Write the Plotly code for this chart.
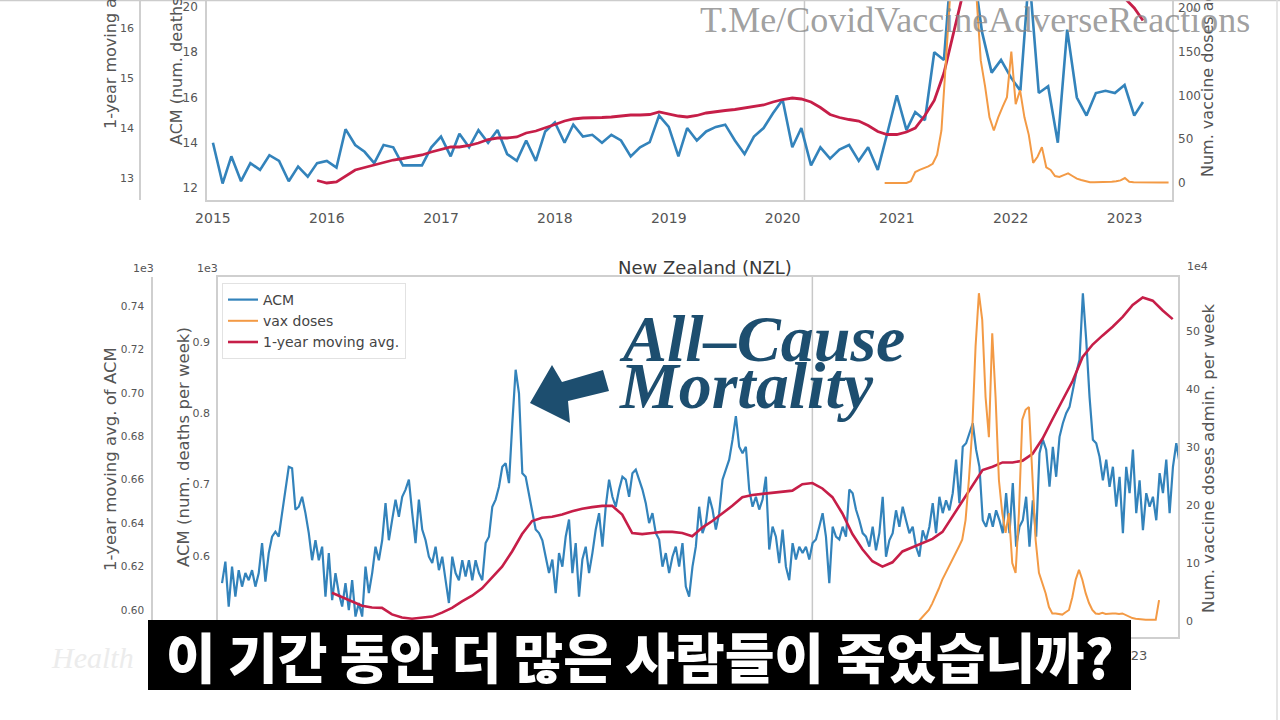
import pandas as pd
import plotly.graph_objects as go

W, H = 1280, 720
BLUE = "#3383bb"
ORANGE = "#f39a45"
RED = "#c61e48"
SPINE = "#cfcfcf"
TXT = "#555555"
SANS = "DejaVu Sans"
SERIF = "Liberation Serif"

# ---------------- data ----------------
years = list(range(2015, 2024))
year_labels = [str(y) for y in years]
bottom_tick_years = [2023]

# upper panel: monthly ACM, 1-year moving average, vaccine doses (two-weekly)
top_acm = [14.0, 12.2, 13.4, 12.3, 13.1, 12.8, 13.45, 13.2, 12.3, 12.95, 12.5, 13.1,
           13.2, 12.9, 14.6, 13.9, 13.6, 13.1, 13.9, 13.8, 13.0, 13.0, 13.0, 13.8,
           14.27, 13.4, 14.4, 13.8, 14.56, 14.0, 14.56, 13.5, 13.2, 14.1, 13.2, 14.5,
           14.9, 14.0, 14.8, 14.27, 14.35, 14.0, 14.35, 14.1, 13.4, 13.8, 14.03, 15.2,
           14.7, 13.4, 14.65, 14.1, 14.5, 14.7, 14.8, 14.1, 13.5, 14.27, 14.65, 15.3,
           15.9, 13.8, 14.65, 13.0, 13.8, 13.3, 13.7, 13.9, 13.2, 13.8, 12.8, 14.4,
           16.1, 14.56, 15.36, 15.0, 18.0, 17.66, 23.0, 24.5, 22.0, 18.9, 17.1, 17.66,
           16.9, 16.3, 21.5, 16.2, 16.5, 14.0, 19.0, 16.0, 15.2, 16.2, 16.3, 16.2,
           16.55, 15.2, 15.8]
top_avg = [12.95, 12.9, 12.92, 13.03, 13.16, 13.21, 13.26, 13.31, 13.36, 13.39, 13.43, 13.46,
           13.52, 13.57, 13.62, 13.62, 13.65, 13.7, 13.77, 13.8, 13.8, 13.82, 13.9, 13.94,
           14.0, 14.07, 14.14, 14.18, 14.2, 14.2, 14.21, 14.22, 14.24, 14.26, 14.26, 14.27,
           14.32, 14.28, 14.24, 14.22, 14.25, 14.3, 14.33, 14.35, 14.37, 14.4, 14.43, 14.46,
           14.52, 14.57, 14.6, 14.58, 14.52, 14.41, 14.27, 14.21, 14.17, 14.14, 14.05, 13.93,
           13.87, 13.87, 13.92, 14.0, 14.25, 14.55, 15.1, 15.95, 16.8, 17.5, 18.1, 18.5,
           18.8, 18.9, 18.9, 18.8, 18.6, 18.3, 18.0, 17.7, 17.5, 17.3, 17.1, 16.95,
           16.8, 16.6, 16.4, 16.15]
top_vax = [0, 0, 0, 0, 0, 0, 2, 12.6, 15, 17, 19, 22, 32, 60, 140, 215, 250, 270, 265, 250,
           235, 215, 140, 110, 75, 60, 75, 87, 98, 150, 90, 106, 75, 55, 23, 30, 41, 18, 15, 8,
           7, 9, 11, 8, 5, 3.4, 2, 1, 1, 1, 1, 1.5, 1.5, 2, 3, 5.7, 1.5, 1, 0.8, 0.5,
           0.5, 0.5, 0.5, 0.5, 0.5, 0.5]

# lower panel: New Zealand (thousands of deaths per week, doses in 1e4)
nzl_acm = [0.562, 0.592, 0.529, 0.585, 0.543, 0.580, 0.557, 0.576, 0.566, 0.580,
           0.557, 0.576, 0.618, 0.564, 0.604, 0.627, 0.634, 0.627, 0.660, 0.693,
           0.725, 0.723, 0.665, 0.669, 0.683, 0.660, 0.632, 0.594, 0.622, 0.594,
           0.613, 0.543, 0.604, 0.538, 0.576, 0.548, 0.529, 0.562, 0.524, 0.566,
           0.515, 0.534, 0.515, 0.585, 0.548, 0.576, 0.613, 0.594, 0.622, 0.674,
           0.622, 0.651, 0.679, 0.655, 0.683, 0.693, 0.707, 0.660, 0.618, 0.679,
           0.637, 0.622, 0.599, 0.590, 0.613, 0.580, 0.599, 0.566, 0.534, 0.599,
           0.576, 0.566, 0.594, 0.571, 0.594, 0.566, 0.594, 0.576, 0.566, 0.618,
           0.627, 0.669, 0.679, 0.697, 0.725, 0.730, 0.702, 0.786, 0.861, 0.828,
           0.716, 0.711, 0.688, 0.660, 0.637, 0.632, 0.622, 0.599,
           0.576, 0.595, 0.548, 0.604, 0.585, 0.627, 0.651, 0.576, 0.618, 0.543,
           0.595, 0.613, 0.576, 0.604, 0.637, 0.660, 0.613, 0.669, 0.707, 0.683,
           0.669, 0.693, 0.711, 0.707, 0.683, 0.716, 0.721, 0.707, 0.693, 0.674,
           0.646, 0.660, 0.632, 0.623, 0.585, 0.604, 0.576, 0.599, 0.613, 0.585,
           0.618, 0.557, 0.543, 0.585, 0.613, 0.669, 0.632, 0.646, 0.683, 0.665,
           0.637, 0.660, 0.707, 0.721, 0.735, 0.763, 0.796, 0.753, 0.744, 0.753,
           0.693, 0.669, 0.683, 0.665, 0.679, 0.711, 0.609, 0.641, 0.627, 0.590,
           0.637, 0.585, 0.566, 0.618, 0.595, 0.613, 0.604, 0.613, 0.595, 0.618,
           0.623, 0.641, 0.660, 0.627, 0.562, 0.641, 0.627, 0.623, 0.641, 0.627,
           0.693, 0.688, 0.665,
           0.650, 0.632, 0.627, 0.613, 0.641, 0.608, 0.632, 0.683, 0.599, 0.622,
           0.632, 0.664, 0.641, 0.669, 0.650, 0.632, 0.641, 0.613, 0.599, 0.636,
           0.622, 0.641, 0.674, 0.632, 0.683, 0.660, 0.678, 0.664, 0.688, 0.735,
           0.674, 0.753, 0.758, 0.772, 0.786, 0.749, 0.725, 0.650, 0.641, 0.660,
           0.641, 0.664, 0.650, 0.632, 0.688, 0.632, 0.702, 0.613, 0.641, 0.650,
           0.683, 0.613, 0.678, 0.627, 0.744, 0.763, 0.749, 0.697, 0.753, 0.711,
           0.767, 0.786, 0.800, 0.809, 0.833, 0.856, 0.875, 0.968, 0.903, 0.823,
           0.763, 0.758, 0.739, 0.706, 0.735, 0.697, 0.725, 0.669, 0.711, 0.632,
           0.725, 0.688, 0.749, 0.660, 0.706, 0.636, 0.688, 0.669, 0.683, 0.650,
           0.716, 0.688, 0.735, 0.660, 0.725, 0.758, 0.730]
nzl_avg = [0.608, 0.606, 0.604, 0.602, 0.6012, 0.601, 0.598, 0.5966, 0.596, 0.5964,
           0.597, 0.5988, 0.601, 0.604, 0.6066, 0.610, 0.615, 0.620, 0.627, 0.635,
           0.641, 0.6425, 0.643, 0.644, 0.6455, 0.6467, 0.6474, 0.648, 0.648, 0.644,
           0.6355, 0.635, 0.6355, 0.636, 0.636, 0.6355, 0.634, 0.638, 0.641, 0.6445,
           0.648, 0.652, 0.653, 0.6535, 0.654, 0.6543, 0.655, 0.658, 0.6585, 0.656,
           0.652, 0.6445, 0.635, 0.628, 0.6225, 0.620, 0.622, 0.627, 0.629, 0.631,
           0.6328, 0.636, 0.643, 0.650, 0.6575, 0.6645, 0.666, 0.668, 0.668, 0.6688,
           0.672, 0.679, 0.688, 0.6965, 0.7055, 0.7166, 0.7223, 0.7265, 0.7305, 0.735,
           0.7405, 0.744, 0.7425, 0.738, 0.734]
nzl_vax = [0.0, 0.7, 1.2, 1.9, 3.0, 4.2, 5.6, 7.1, 8.2, 9.4,
           10.5, 11.7, 12.8, 14.0, 17.4, 24.3, 32.9, 47.3, 56.5, 51.9,
           38.6, 31.7, 49.6, 38.6, 24.3, 18.6, 15.2, 18.6, 10.0, 8.3,
           18.6, 34.7, 36.4, 36.9, 24.3, 14.0, 8.3, 6.5, 4.8, 2.4,
           1.3, 1.3, 1.2, 1.1, 1.5, 1.9, 4.1, 7.1, 8.8, 7.1,
           4.8, 3.1, 1.9, 1.3, 1.2, 1.4, 1.2, 1.3, 1.3, 1.3,
           1.2, 1.3, 1.0, 0.7, 0.5, 0.4, 0.3, 0.2, 0.2, 0.2,
           0.2, 0.2, 3.6]

top_acm_t = pd.date_range("2015-01-01", periods=len(top_acm), freq="MS")
top_avg_t = pd.date_range("2015-12-01", periods=len(top_avg), freq="MS")
top_vax_t = pd.date_range("2020-11-23", periods=len(top_vax), freq="14D")
nzl_acm_t = pd.date_range("2014-12-26", periods=len(nzl_acm), freq="258h")
nzl_avg_t = pd.date_range("2015-12-15", periods=len(nzl_avg), freq="774h")
nzl_vax_t = pd.date_range("2021-02-17", periods=len(nzl_vax), freq="258h")

X_RANGE = ["2014-12-13", "2023-06-02"]
PANDEMIC = "2020-03-11"


def xp(px):
    return px / W


def yp(py):
    return 1 - py / H


# ---------------- traces ----------------
fig = go.Figure()
fig.add_trace(go.Scatter(x=top_acm_t, y=top_acm, xaxis="x", yaxis="y", mode="lines",
                         line=dict(color=BLUE, width=2.6), showlegend=False))
fig.add_trace(go.Scatter(x=top_avg_t, y=top_avg, xaxis="x", yaxis="y2", mode="lines",
                         line=dict(color=RED, width=2.8), showlegend=False))
fig.add_trace(go.Scatter(x=top_vax_t, y=top_vax, xaxis="x", yaxis="y3", mode="lines",
                         line=dict(color=ORANGE, width=2), showlegend=False))

fig.add_trace(go.Scatter(x=nzl_acm_t, y=nzl_acm, xaxis="x2", yaxis="y4", mode="lines",
                         name="ACM", line=dict(color=BLUE, width=2.2)))
fig.add_trace(go.Scatter(x=nzl_vax_t, y=nzl_vax, xaxis="x2", yaxis="y6", mode="lines",
                         name="vax doses", line=dict(color=ORANGE, width=2)))
fig.add_trace(go.Scatter(x=nzl_avg_t, y=nzl_avg, xaxis="x2", yaxis="y5", mode="lines",
                         name="1-year moving avg.", line=dict(color=RED, width=2.6)))


def ax(size=11, standoff=4, **kw):
    d = dict(showgrid=False, zeroline=False, ticks="", showline=True, linecolor=SPINE,
             linewidth=1.5, tickfont=dict(family=SANS, color=TXT, size=size),
             ticklabelstandoff=standoff, fixedrange=True, automargin=False)
    d.update(kw)
    return d


layout_axes = dict(
    xaxis=ax(14, 4, domain=[xp(207), xp(1172)], anchor="y", type="date", range=X_RANGE,
             tickvals=[f"{y}-01-01" for y in years], ticktext=year_labels, mirror=True),
    yaxis=ax(12, 5, domain=[yp(200), 1], anchor="x", range=[11.47, 20.31],
             tickvals=[12, 14, 16, 18, 20], mirror=True),
    yaxis2=ax(11, 3, overlaying="y", anchor="free", position=xp(140), side="left",
              range=[12.56, 16.56], tickvals=[13, 14, 15, 16]),
    yaxis3=ax(12, 5, overlaying="y", anchor="x", side="right", range=[-19.4, 209],
              tickvals=[0, 50, 100, 150, 200], showline=False),
    xaxis2=ax(13, 6, domain=[xp(218), xp(1178)], anchor="y4", type="date", range=X_RANGE,
              tickvals=[f"{y}-01-01" for y in bottom_tick_years],
              ticktext=[str(y) for y in bottom_tick_years], mirror=True),
    yaxis4=ax(11, 4, domain=[yp(637), yp(277)], anchor="x2", range=[0.4864, 0.991],
              tickvals=[0.6, 0.7, 0.8, 0.9], ticktext=["0.6", "0.7", "0.8", "0.9"], mirror=True),
    yaxis5=ax(10.5, 5, overlaying="y4", anchor="free", position=xp(152), side="left",
              range=[0.5876, 0.7534],
              tickvals=[0.60, 0.62, 0.64, 0.66, 0.68, 0.70, 0.72, 0.74],
              ticktext=["0.60", "0.62", "0.64", "0.66", "0.68", "0.70", "0.72", "0.74"]),
    yaxis6=ax(11, 7, overlaying="y4", anchor="x2", side="right", range=[-2.76, 59.3],
              tickvals=[0, 10, 20, 30, 40, 50], showline=False),
)

# ---------------- annotations ----------------
anns = []


def ann(text, px, py, size, color=TXT, angle=0, family=SANS, xanchor="center",
        yanchor="middle", weight="normal", style="normal"):
    anns.append(dict(text=text, x=xp(px), y=yp(py), xref="paper", yref="paper",
                     showarrow=False, textangle=angle, xanchor=xanchor, yanchor=yanchor,
                     font=dict(family=family, size=size, color=color, weight=weight,
                               style=style)))


# upper panel axis titles (cropped at top of frame, as in the reference)
ann("1-year moving avg. of ACM", 110, 21, 16, angle=-90)
ann("ACM (num. deaths per week)", 177, 29, 16, angle=-90)
ann("Num. vaccine doses admin. per week", 1208, 27, 16, angle=-90)

# lower panel
ann("New Zealand (NZL)", 705, 267, 18, color="#3a3a3a")
ann("1e3", 143, 268, 11)
ann("1e3", 207, 268, 11)
ann("1e4", 1197, 266, 11)
ann("1-year moving avg. of ACM", 111, 459, 16.5, angle=-90)
ann("ACM (num. deaths per week)", 183, 447, 16.5, angle=-90)
ann("Num. vaccine doses admin. per week", 1208, 458, 16.5, angle=-90)

# overlays
ann("T.Me/CovidVaccineAdverseReactions", 975, 20, 36, color="rgba(135,135,135,0.8)",
    family=SERIF)
ann("All\u2013Cause", 617, 338, 66, color="#1d4e6f", family=SERIF, xanchor="left",
    weight="bold", style="italic")
ann("Mortality", 617, 385, 66, color="#1d4e6f", family=SERIF, xanchor="left",
    weight="bold", style="italic")
ann("Health", 92, 657, 30, color="#ececec", family=SERIF, style="italic")
ann("이 기간 동안 더 많은 사람들이 죽었습니까?", 640, 655, 54, color="white",
    family="Noto Sans CJK KR", weight=900)

# ---------------- shapes ----------------
arrow_pts = [(530, 403), (552, 365), (562, 382), (603, 370), (609, 391),
             (568, 401), (570, 423)]
arrow_path = "M " + " L ".join(f"{xp(a):.5f},{yp(b):.5f}" for a, b in arrow_pts) + " Z"

shapes = [
    dict(type="line", xref="x", yref="y domain", x0=PANDEMIC, x1=PANDEMIC, y0=0, y1=1,
         line=dict(color="#c8c8c8", width=1.5), layer="below"),
    dict(type="line", xref="x2", yref="y4 domain", x0=PANDEMIC, x1=PANDEMIC, y0=0, y1=1,
         line=dict(color="#c8c8c8", width=1.5), layer="below"),
    dict(type="path", xref="paper", yref="paper", path=arrow_path,
         fillcolor="#1d4e6f", line=dict(width=0), layer="above"),
    dict(type="rect", xref="paper", yref="paper", x0=xp(148), x1=xp(1131),
         y0=yp(690), y1=yp(620), fillcolor="black", line=dict(width=0), layer="above"),
    dict(type="line", xref="paper", yref="paper", x0=0, x1=1, y0=yp(0.5), y1=yp(0.5),
         line=dict(color="#cccccc", width=1.5), layer="above"),
    dict(type="line", xref="paper", yref="paper", x0=xp(1277), x1=xp(1277), y0=0, y1=1,
         line=dict(color="#dddddd", width=1.5), layer="above"),
]

fig.update_layout(
    width=W, height=H, autosize=False,
    margin=dict(l=0, r=0, t=0, b=0, pad=0, autoexpand=False),
    paper_bgcolor="white", plot_bgcolor="white",
    showlegend=True,
    legend=dict(x=xp(222), y=yp(283), xanchor="left", yanchor="top",
                bgcolor="rgba(255,255,255,0.85)", bordercolor="#e2e2e2", borderwidth=1,
                font=dict(family=SANS, size=14, color="#444444"), tracegroupgap=0,
                itemwidth=30),
    annotations=anns,
    shapes=shapes,
    hovermode=False,
    **layout_axes,
)

fig.write_html("out.html", config={"displayModeBar": False, "responsive": False},
               post_script="document.body.style.margin='0';")
